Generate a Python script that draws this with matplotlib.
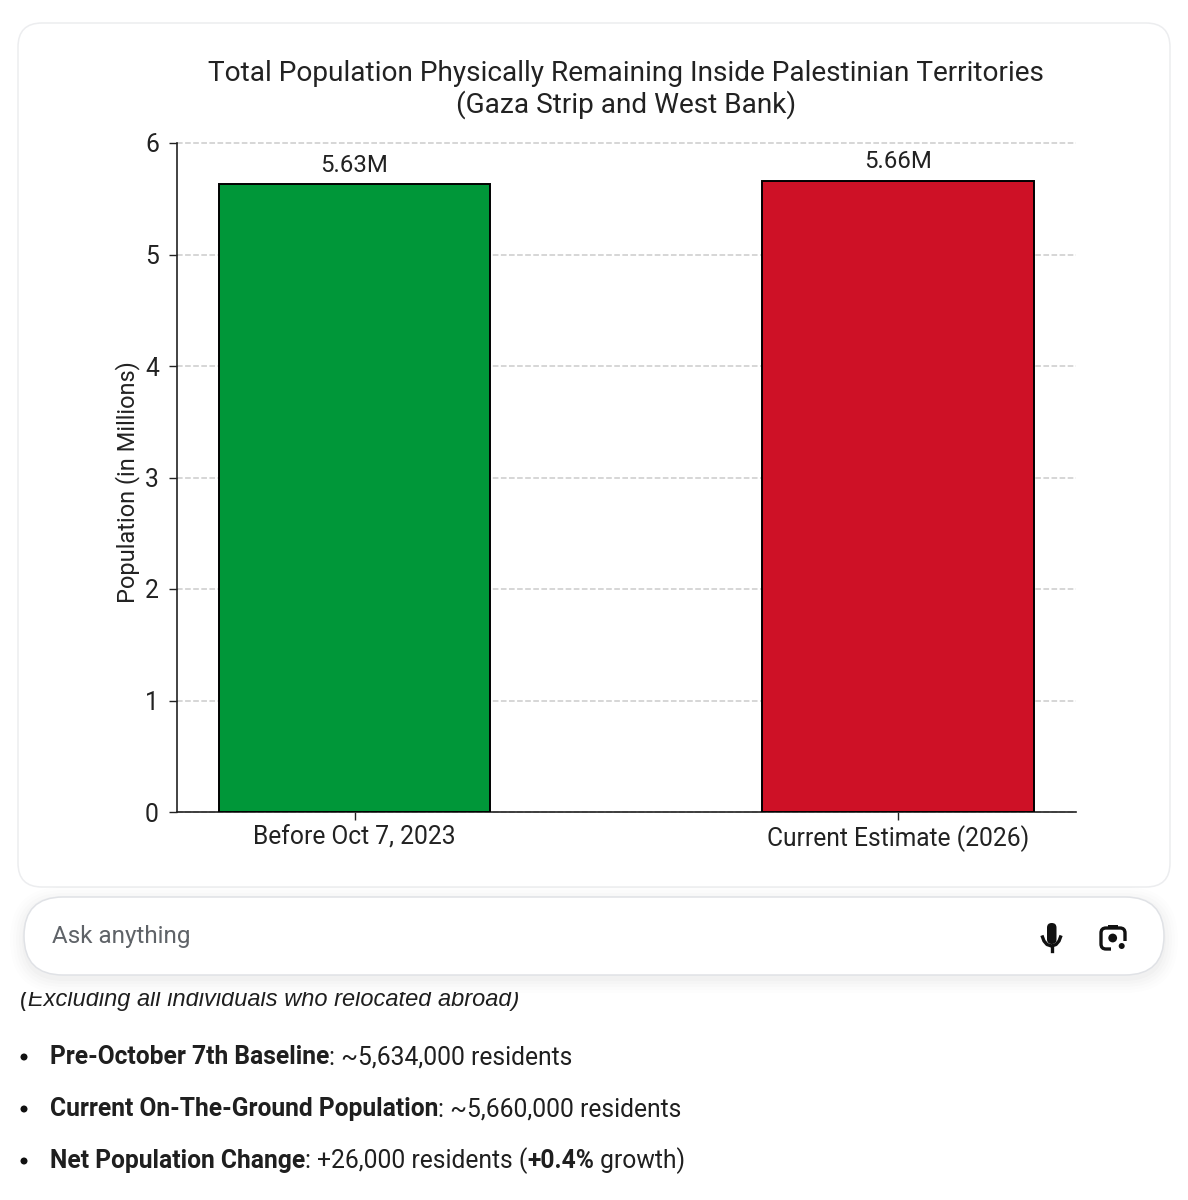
import matplotlib
matplotlib.use('Agg')
import matplotlib.pyplot as plt
from matplotlib.patches import FancyBboxPatch, Circle, Rectangle

plt.rcParams['font.family'] = ['Roboto', 'DejaVu Sans']

# data
categories = ['Before Oct 7, 2023', 'Current Estimate (2026)']
population = [5.63, 5.66]
bar_labels = ['5.63M', '5.66M']
bar_colors = ['#009739', '#CE1126']
y_ticks = [0, 1, 2, 3, 4, 5, 6]
title = 'Total Population Physically Remaining Inside Palestinian Territories\n(Gaza Strip and West Bank)'
ylabel = 'Population (in Millions)'
bullets = [
    [('Pre-October 7th Baseline', 'bold'), (': ~5,634,000 residents', 'normal')],
    [('Current On-The-Ground Population', 'bold'), (': ~5,660,000 residents', 'normal')],
    [('Net Population Change', 'bold'), (': +26,000 residents (', 'normal'), ('+0.4%', 'bold'), (' growth)', 'normal')],
]

W, H = 1188, 1200
fig = plt.figure(figsize=(W / 100, H / 100), dpi=100, facecolor='white')

# page layer in pixel coordinates, y going down
page = fig.add_axes([0, 0, 1, 1], zorder=0)
page.set_xlim(0, W)
page.set_ylim(H, 0)
page.axis('off')

# card behind the chart
page.add_patch(FancyBboxPatch((18, 23), 1152, 864, boxstyle='round,pad=0,rounding_size=24',
                              fc='white', ec='#ECEDEF', lw=1.1))

# clipped italic line, then the input box sits on top of it
page.text(20, 999.5, '(Excluding all individuals who relocated abroad)', fontsize=17,
          family='Liberation Sans', style='italic', color='#1F1F1F', va='center', zorder=1)
page.add_patch(Rectangle((0, 888), W, 104, fc='white', ec='none', zorder=2))

# soft shadow of the input box
for grow, alpha in [(14, 0.006), (11, 0.008), (8, 0.01), (5, 0.012), (2, 0.014)]:
    page.add_patch(FancyBboxPatch((24 - grow, 897 - grow + 4), 1140 + 2 * grow, 78 + 2 * grow,
                                  boxstyle='round,pad=0,rounding_size=%d' % (39 + grow),
                                  fc='black', ec='none', alpha=alpha, zorder=3))
page.add_patch(FancyBboxPatch((24, 897), 1140, 78, boxstyle='round,pad=0,rounding_size=39',
                              fc='white', ec='#E0E2E6', lw=1.1, zorder=4))
page.text(52, 936.5, 'Ask anything', fontsize=17.5, color='#5F6368', va='center', zorder=5)

# mic icon
page.add_patch(FancyBboxPatch((1047, 923), 9.5, 21, boxstyle='round,pad=0,rounding_size=4.7',
                              fc='#111111', ec='none', zorder=5))
arc_x = [1042.5, 1044, 1047, 1051.5, 1056, 1059, 1060.5]
page.plot(arc_x, [937, 941, 944.5, 946, 944.5, 941, 937], color='#111111', lw=2.4, zorder=5)
page.plot([1051.5, 1051.5], [946, 951], color='#111111', lw=2.4, zorder=5)

# camera icon
page.add_patch(FancyBboxPatch((1101, 928), 24, 21, boxstyle='round,pad=0,rounding_size=5',
                              fc='none', ec='#111111', lw=2.4, zorder=5))
page.add_patch(Rectangle((1111, 941), 18, 11, fc='white', ec='none', zorder=6))
page.add_patch(Rectangle((1108, 925), 10, 4, fc='#111111', ec='none', zorder=6))
page.add_patch(Circle((1112.7, 938), 4.4, fc='#111111', ec='none', zorder=7))
page.add_patch(Circle((1121.7, 946), 3, fc='#111111', ec='none', zorder=7))

# bullet list, runs placed one after another
renderer = fig.canvas.get_renderer()
for row, runs in zip([1057, 1109, 1161], bullets):
    page.add_patch(Circle((24, row), 3.5, fc='#111111', ec='none'))
    x = 50
    for text, weight in runs:
        t = page.text(x, row, text, fontsize=17.7, fontweight=weight, color='#1F1F1F', va='center')
        box = t.get_window_extent(renderer)
        # trailing spaces are not counted in the extent
        x = box.x1 + (4.5 if text.endswith(' ') else 0)

# chart
ax = fig.add_axes([177 / W, 1 - 812 / H, (1076 - 177) / W, (812 - 143) / H], zorder=1)
ax.patch.set_alpha(0)
x_pos = list(range(len(categories)))
bars = ax.bar(x_pos, population, width=0.5, color=bar_colors, edgecolor='black', linewidth=1.4, zorder=3)
ax.set_xlim(-0.3266, 1.3275)
ax.set_ylim(0, 6)
ax.set_yticks(y_ticks)
ax.set_xticks(x_pos)
ax.set_xticklabels(categories)
ax.tick_params(axis='x', labelsize=17.7, colors='#222222', length=6, width=1, pad=3.6)
ax.tick_params(axis='y', labelsize=17.7, colors='#222222', length=6, width=1, pad=7)
ax.yaxis.grid(True, linestyle='--', color='#CCCCCC', linewidth=1.1, zorder=0, clip_on=False)
ax.spines['top'].set_visible(False)
ax.spines['right'].set_visible(False)
for s in ['left', 'bottom']:
    ax.spines[s].set_linewidth(1.2)
    ax.spines[s].set_color('#222222')
for bar, lab in zip(bars, bar_labels):
    ax.annotate(lab, (bar.get_x() + bar.get_width() / 2, bar.get_height()), xytext=(0, 5.4),
                textcoords='offset points', ha='center', va='bottom', fontsize=17.3, color='#222222')
ax.set_ylabel(ylabel, fontsize=17, color='#222222', labelpad=4, y=0.493)
page.text(626, 89.5, title, fontsize=20.2, color='#222222', ha='center', va='center', linespacing=1.15)

fig.savefig('out.png', dpi=100)
